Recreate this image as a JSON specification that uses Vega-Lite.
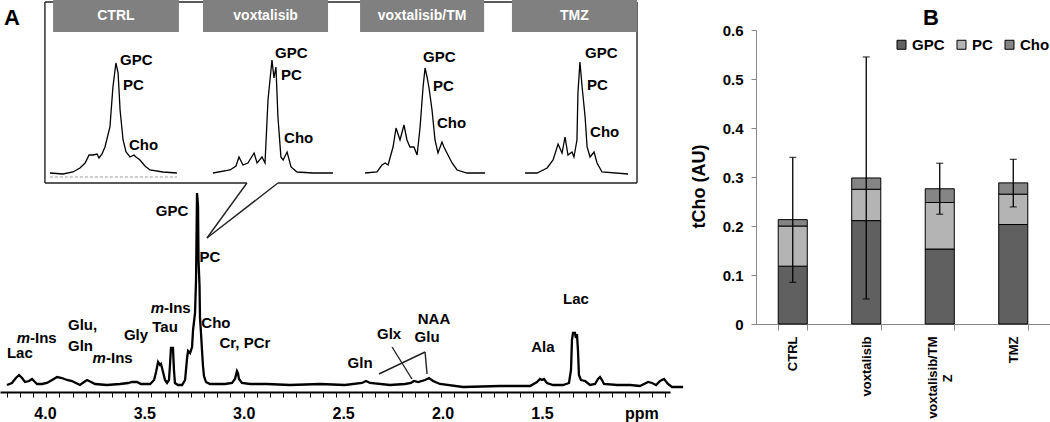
{
  "$schema": "https://vega.github.io/schema/vega-lite/v6.json",
  "width": 1050,
  "height": 422,
  "padding": 0,
  "autosize": {"type": "none"},
  "config": {
    "view": {"stroke": null},
    "font": "Liberation Sans, Arial, sans-serif",
    "text": {"fontWeight": "bold", "fontSize": 15, "color": "black", "baseline": "middle"},
    "style": {
      "tchoAxis": {}
    }
  },
  "datasets": {
    "main": [
      {"ppm":4.191,"I":7},{"ppm":4.166,"I":9},{"ppm":4.146,"I":14},{"ppm":4.130,"I":17},{"ppm":4.115,"I":14},{"ppm":4.100,"I":10},{"ppm":4.080,"I":11},{"ppm":4.065,"I":13},{"ppm":4.050,"I":10},{"ppm":4.040,"I":8},{"ppm":4.015,"I":8},{"ppm":3.990,"I":9},{"ppm":3.964,"I":12},{"ppm":3.939,"I":15},{"ppm":3.914,"I":14},{"ppm":3.889,"I":12},{"ppm":3.864,"I":11},{"ppm":3.844,"I":9},{"ppm":3.824,"I":7},{"ppm":3.803,"I":10},{"ppm":3.788,"I":12},{"ppm":3.768,"I":10},{"ppm":3.748,"I":8},{"ppm":3.688,"I":7},{"ppm":3.622,"I":8},{"ppm":3.582,"I":9},{"ppm":3.562,"I":10},{"ppm":3.537,"I":10},{"ppm":3.517,"I":8},{"ppm":3.471,"I":8},{"ppm":3.451,"I":12},{"ppm":3.441,"I":20},{"ppm":3.431,"I":30},{"ppm":3.421,"I":27},{"ppm":3.416,"I":28},{"ppm":3.406,"I":20},{"ppm":3.396,"I":12},{"ppm":3.386,"I":9},{"ppm":3.376,"I":12},{"ppm":3.371,"I":27},{"ppm":3.366,"I":44},{"ppm":3.356,"I":44},{"ppm":3.351,"I":22},{"ppm":3.346,"I":9},{"ppm":3.331,"I":7},{"ppm":3.310,"I":7},{"ppm":3.295,"I":12},{"ppm":3.285,"I":34},{"ppm":3.280,"I":41},{"ppm":3.270,"I":39},{"ppm":3.260,"I":45},{"ppm":3.255,"I":62},{"ppm":3.245,"I":79},{"ppm":3.240,"I":112},{"ppm":3.235,"I":199},{"ppm":3.230,"I":187},{"ppm":3.2275,"I":132},{"ppm":3.225,"I":119},{"ppm":3.2225,"I":107},{"ppm":3.220,"I":74},{"ppm":3.215,"I":59},{"ppm":3.210,"I":42},{"ppm":3.205,"I":26},{"ppm":3.200,"I":16},{"ppm":3.190,"I":10},{"ppm":3.170,"I":8},{"ppm":3.134,"I":8},{"ppm":3.094,"I":8},{"ppm":3.059,"I":9},{"ppm":3.044,"I":13},{"ppm":3.034,"I":21},{"ppm":3.029,"I":19},{"ppm":3.024,"I":13},{"ppm":3.009,"I":9},{"ppm":2.968,"I":8},{"ppm":2.883,"I":8},{"ppm":2.767,"I":7},{"ppm":2.616,"I":8},{"ppm":2.491,"I":7},{"ppm":2.405,"I":9},{"ppm":2.385,"I":11},{"ppm":2.365,"I":9},{"ppm":2.264,"I":7},{"ppm":2.189,"I":8},{"ppm":2.159,"I":9},{"ppm":2.144,"I":11},{"ppm":2.123,"I":10},{"ppm":2.088,"I":12},{"ppm":2.068,"I":14},{"ppm":2.048,"I":11},{"ppm":2.013,"I":8},{"ppm":1.897,"I":5},{"ppm":1.711,"I":6},{"ppm":1.560,"I":6},{"ppm":1.525,"I":10},{"ppm":1.510,"I":13},{"ppm":1.500,"I":12},{"ppm":1.490,"I":13},{"ppm":1.475,"I":9},{"ppm":1.444,"I":7},{"ppm":1.394,"I":7},{"ppm":1.364,"I":9},{"ppm":1.354,"I":22},{"ppm":1.349,"I":52},{"ppm":1.344,"I":59},{"ppm":1.334,"I":59},{"ppm":1.329,"I":54},{"ppm":1.324,"I":58},{"ppm":1.319,"I":42},{"ppm":1.314,"I":17},{"ppm":1.304,"I":12},{"ppm":1.283,"I":11},{"ppm":1.258,"I":7},{"ppm":1.233,"I":8},{"ppm":1.218,"I":13},{"ppm":1.208,"I":15},{"ppm":1.198,"I":12},{"ppm":1.188,"I":8},{"ppm":1.122,"I":7},{"ppm":1.057,"I":7},{"ppm":1.007,"I":6},{"ppm":0.966,"I":10},{"ppm":0.946,"I":9},{"ppm":0.926,"I":7},{"ppm":0.906,"I":11},{"ppm":0.886,"I":13},{"ppm":0.866,"I":8},{"ppm":0.846,"I":5},{"ppm":0.790,"I":5}
    ],
    "insets": [
      {"panel":"CTRL","ppm":3.975,"I":219},{"panel":"CTRL","ppm":3.909,"I":218},{"panel":"CTRL","ppm":3.859,"I":220},{"panel":"CTRL","ppm":3.824,"I":224},{"panel":"CTRL","ppm":3.798,"I":229},{"panel":"CTRL","ppm":3.778,"I":237},{"panel":"CTRL","ppm":3.758,"I":237},{"panel":"CTRL","ppm":3.738,"I":238},{"panel":"CTRL","ppm":3.728,"I":234},{"panel":"CTRL","ppm":3.713,"I":238},{"panel":"CTRL","ppm":3.698,"I":245},{"panel":"CTRL","ppm":3.673,"I":265},{"panel":"CTRL","ppm":3.658,"I":305},{"panel":"CTRL","ppm":3.643,"I":329},{"panel":"CTRL","ppm":3.632,"I":319},{"panel":"CTRL","ppm":3.622,"I":282},{"panel":"CTRL","ppm":3.607,"I":252},{"panel":"CTRL","ppm":3.592,"I":240},{"panel":"CTRL","ppm":3.572,"I":235},{"panel":"CTRL","ppm":3.552,"I":237},{"panel":"CTRL","ppm":3.542,"I":235},{"panel":"CTRL","ppm":3.522,"I":232},{"panel":"CTRL","ppm":3.497,"I":226},{"panel":"CTRL","ppm":3.472,"I":222},{"panel":"CTRL","ppm":3.406,"I":220},{"panel":"CTRL","ppm":3.336,"I":219},
      {"panel":"voxtalisib","ppm":3.155,"I":219},{"panel":"voxtalisib","ppm":3.069,"I":222},{"panel":"voxtalisib","ppm":3.039,"I":226},{"panel":"voxtalisib","ppm":3.024,"I":235},{"panel":"voxtalisib","ppm":3.004,"I":227},{"panel":"voxtalisib","ppm":2.979,"I":229},{"panel":"voxtalisib","ppm":2.948,"I":239},{"panel":"voxtalisib","ppm":2.933,"I":229},{"panel":"voxtalisib","ppm":2.908,"I":235},{"panel":"voxtalisib","ppm":2.893,"I":229},{"panel":"voxtalisib","ppm":2.878,"I":292},{"panel":"voxtalisib","ppm":2.858,"I":332},{"panel":"voxtalisib","ppm":2.848,"I":314},{"panel":"voxtalisib","ppm":2.838,"I":325},{"panel":"voxtalisib","ppm":2.828,"I":275},{"panel":"voxtalisib","ppm":2.813,"I":235},{"panel":"voxtalisib","ppm":2.802,"I":232},{"panel":"voxtalisib","ppm":2.782,"I":240},{"panel":"voxtalisib","ppm":2.762,"I":225},{"panel":"voxtalisib","ppm":2.732,"I":220},{"panel":"voxtalisib","ppm":2.652,"I":219},{"panel":"voxtalisib","ppm":2.551,"I":219},
      {"panel":"voxtalisib/TMZ","ppm":2.390,"I":219},{"panel":"voxtalisib/TMZ","ppm":2.330,"I":220},{"panel":"voxtalisib/TMZ","ppm":2.305,"I":227},{"panel":"voxtalisib/TMZ","ppm":2.289,"I":229},{"panel":"voxtalisib/TMZ","ppm":2.274,"I":227},{"panel":"voxtalisib/TMZ","ppm":2.249,"I":245},{"panel":"voxtalisib/TMZ","ppm":2.234,"I":264},{"panel":"voxtalisib/TMZ","ppm":2.214,"I":252},{"panel":"voxtalisib/TMZ","ppm":2.194,"I":267},{"panel":"voxtalisib/TMZ","ppm":2.179,"I":252},{"panel":"voxtalisib/TMZ","ppm":2.164,"I":245},{"panel":"voxtalisib/TMZ","ppm":2.144,"I":245},{"panel":"voxtalisib/TMZ","ppm":2.128,"I":237},{"panel":"voxtalisib/TMZ","ppm":2.113,"I":265},{"panel":"voxtalisib/TMZ","ppm":2.098,"I":305},{"panel":"voxtalisib/TMZ","ppm":2.088,"I":324},{"panel":"voxtalisib/TMZ","ppm":2.078,"I":315},{"panel":"voxtalisib/TMZ","ppm":2.068,"I":304},{"panel":"voxtalisib/TMZ","ppm":2.053,"I":282},{"panel":"voxtalisib/TMZ","ppm":2.038,"I":252},{"panel":"voxtalisib/TMZ","ppm":2.023,"I":239},{"panel":"voxtalisib/TMZ","ppm":2.003,"I":250},{"panel":"voxtalisib/TMZ","ppm":1.993,"I":245},{"panel":"voxtalisib/TMZ","ppm":1.978,"I":239},{"panel":"voxtalisib/TMZ","ppm":1.952,"I":229},{"panel":"voxtalisib/TMZ","ppm":1.927,"I":222},{"panel":"voxtalisib/TMZ","ppm":1.877,"I":219},{"panel":"voxtalisib/TMZ","ppm":1.786,"I":219},
      {"panel":"TMZ","ppm":1.585,"I":219},{"panel":"TMZ","ppm":1.525,"I":219},{"panel":"TMZ","ppm":1.474,"I":224},{"panel":"TMZ","ppm":1.444,"I":232},{"panel":"TMZ","ppm":1.419,"I":248},{"panel":"TMZ","ppm":1.399,"I":239},{"panel":"TMZ","ppm":1.384,"I":255},{"panel":"TMZ","ppm":1.369,"I":237},{"panel":"TMZ","ppm":1.349,"I":240},{"panel":"TMZ","ppm":1.339,"I":235},{"panel":"TMZ","ppm":1.324,"I":252},{"panel":"TMZ","ppm":1.319,"I":299},{"panel":"TMZ","ppm":1.309,"I":330},{"panel":"TMZ","ppm":1.298,"I":305},{"panel":"TMZ","ppm":1.293,"I":295},{"panel":"TMZ","ppm":1.283,"I":275},{"panel":"TMZ","ppm":1.273,"I":245},{"panel":"TMZ","ppm":1.258,"I":235},{"panel":"TMZ","ppm":1.238,"I":240},{"panel":"TMZ","ppm":1.223,"I":229},{"panel":"TMZ","ppm":1.198,"I":220},{"panel":"TMZ","ppm":1.067,"I":218}
    ],
    "segments": [
      {"ppm":4.000,"I":390,"ppm2":1.022,"I2":390},
      {"ppm":4.000,"I":390,"ppm2":4.000,"I2":209},
      {"ppm":1.022,"I":390,"ppm2":1.022,"I2":209},
      {"ppm":4.000,"I":209,"ppm2":2.984,"I2":209},
      {"ppm":2.828,"I":209,"ppm2":1.022,"I2":209},
      {"ppm":2.984,"I":209,"ppm2":3.185,"I2":154},
      {"ppm":2.828,"I":209,"ppm2":3.185,"I2":154},
      {"ppm":2.320,"I":18,"ppm2":2.088,"I2":40},
      {"ppm":2.088,"I":40,"ppm2":2.078,"I2":18},
      {"ppm":2.254,"I":45,"ppm2":2.154,"I2":13}
    ],
    "dashed": [{"ppm":3.975,"I":215,"ppm2":3.336,"I2":215}],
    "headers": [
      {"label":"CTRL","ppm":3.959,"ppm2":3.326,"I":392,"I2":360},
      {"label":"voxtalisib","ppm":3.205,"ppm2":2.576,"I":392,"I2":360},
      {"label":"voxtalisib/TM","ppm":2.415,"ppm2":1.791,"I":392,"I2":360},
      {"label":"TMZ","ppm":1.651,"ppm2":1.022,"I":392,"I2":360}
    ],
    "headerText": [
      {"label":"CTRL","ppm":3.643,"I":376},
      {"label":"voxtalisib","ppm":2.890,"I":376},
      {"label":"voxtalisib/TM","ppm":2.103,"I":376},
      {"label":"TMZ","ppm":1.337,"I":376}
    ],
    "labelsCenter": [
      {"label":"GPC","ppm":3.361,"I":181},
      {"label":"PC","ppm":3.170,"I":135},
      {"label":"Lac","ppm":4.126,"I":39},
      {"label":"Gly","ppm":3.542,"I":57},
      {"label":"Tau","ppm":3.396,"I":65},
      {"label":"Cho","ppm":3.140,"I":69},
      {"label":"Cr, PCr","ppm":2.994,"I":49},
      {"label":"Gln","ppm":2.415,"I":29},
      {"label":"Glx","ppm":2.269,"I":58},
      {"label":"NAA","ppm":2.043,"I":73},
      {"label":"Glu","ppm":2.078,"I":55},
      {"label":"Ala","ppm":1.495,"I":45},
      {"label":"Lac","ppm":1.329,"I":93}
    ],
    "labelsLeft": [
      {"label":"Glu,","ppm":3.884,"I":67},
      {"label":"Gln","ppm":3.884,"I":46},
      {"label":"GPC","ppm":3.622,"I":332},
      {"label":"PC","ppm":3.607,"I":307},
      {"label":"Cho","ppm":3.577,"I":247},
      {"label":"GPC","ppm":2.843,"I":339},
      {"label":"PC","ppm":2.813,"I":317},
      {"label":"Cho","ppm":2.797,"I":254},
      {"label":"GPC","ppm":2.098,"I":335},
      {"label":"PC","ppm":2.048,"I":306},
      {"label":"Cho","ppm":2.028,"I":269},
      {"label":"GPC","ppm":1.283,"I":339},
      {"label":"PC","ppm":1.273,"I":307},
      {"label":"Cho","ppm":1.258,"I":260}
    ],
    "mIns": [
      {"ppm":4.075,"I":54},
      {"ppm":3.693,"I":34},
      {"ppm":3.401,"I":84}
    ],
    "panelLetters": [
      {"label":"A","ppm":4.166,"I":374},
      {"label":"B","ppm":-0.457,"I":374}
    ],
    "bars": [
      {"group":"CTRL","component":"GPC","value":0.118},
      {"group":"CTRL","component":"PC","value":0.082},
      {"group":"CTRL","component":"Cho","value":0.013},
      {"group":"voxtalisib","component":"GPC","value":0.211},
      {"group":"voxtalisib","component":"PC","value":0.064},
      {"group":"voxtalisib","component":"Cho","value":0.023},
      {"group":"voxtalisib/TMZ","component":"GPC","value":0.153},
      {"group":"voxtalisib/TMZ","component":"PC","value":0.095},
      {"group":"voxtalisib/TMZ","component":"Cho","value":0.028},
      {"group":"TMZ","component":"GPC","value":0.203},
      {"group":"TMZ","component":"PC","value":0.062},
      {"group":"TMZ","component":"Cho","value":0.023}
    ],
    "err": [
      {"group":"CTRL","lo":0.085,"hi":0.340},
      {"group":"voxtalisib","lo":0.051,"hi":0.545},
      {"group":"voxtalisib/TMZ","lo":0.224,"hi":0.328},
      {"group":"TMZ","lo":0.239,"hi":0.336}
    ],
    "wrapPart": [
      {"group":"voxtalisib/TMZ","pos":-0.111,"text":"Z"}
    ]
  },
  "layer": [
    {
      "encoding": {
        "x": {
          "field": "ppm", "type": "quantitative",
          "scale": {"domain": [4.226, 0.856], "range": [0, 670], "nice": false, "zero": false},
          "axis": {
            "orient": "bottom", "offset": -30, "title": null, "grid": false,
            "values": [4.192,4.126,4.060,3.993,3.927,3.861,3.795,3.729,3.662,3.596,3.530,3.464,3.398,3.331,3.265,3.199,3.133,3.067,3.000,2.934,2.868,2.802,2.736,2.669,2.603,2.537,2.471,2.405,2.338,2.272,2.206,2.140,2.074,2.007,1.941,1.875,1.809,1.743,1.676,1.610,1.544,1.478,1.412,1.345,1.279,1.213,1.147,1.081,1.014,0.948,0.882,4,3.5,2.5,2,1.5,1],
            "labelExpr": "datum.value == 1 ? 'ppm' : (indexof([4,3.5,3,2.5,2,1.5], datum.value) >= 0 ? format(datum.value, '.1f') : '')",
            "tickOpacity": {"condition": {"test": "indexof([4,3.5,2.5,2,1.5,1], datum.value) >= 0", "value": 0}, "value": 1},
            "tickSize": 5, "tickWidth": 1, "tickColor": "black",
            "domainColor": "black", "domainWidth": 2,
            "labelFontSize": 16, "labelFontWeight": "bold", "labelColor": "black",
            "labelPadding": 8, "labelOverlap": false, "labelBound": false, "labelFlush": false
          }
        },
        "y": {
          "field": "I", "type": "quantitative",
          "scale": {"domain": [0, 392], "range": [392, 0], "nice": false, "zero": false},
          "axis": null
        }
      },
      "layer": [
        {"data": {"name": "main"}, "mark": {"type": "line", "color": "black", "strokeWidth": 2.3}},
        {"data": {"name": "insets"}, "mark": {"type": "line", "color": "black", "strokeWidth": 1.3}, "encoding": {"detail": {"field": "panel"}}},
        {"data": {"name": "dashed"}, "mark": {"type": "rule", "color": "#999999", "strokeWidth": 1, "strokeDash": [3, 2]}, "encoding": {"x2": {"field": "ppm2"}, "y2": {"field": "I2"}}},
        {"data": {"name": "segments"}, "mark": {"type": "rule", "color": "#222222", "strokeWidth": 1.4}, "encoding": {"x2": {"field": "ppm2"}, "y2": {"field": "I2"}}},
        {"data": {"name": "headers"}, "mark": {"type": "rect", "color": "#808080"}, "encoding": {"x2": {"field": "ppm2"}, "y2": {"field": "I2"}}},
        {"data": {"name": "headerText"}, "mark": {"type": "text", "color": "white", "fontSize": 14, "align": "center"}, "encoding": {"text": {"field": "label"}}},
        {"data": {"name": "labelsCenter"}, "mark": {"type": "text", "align": "center"}, "encoding": {"text": {"field": "label"}}},
        {"data": {"name": "labelsLeft"}, "mark": {"type": "text", "align": "left"}, "encoding": {"text": {"field": "label"}}},
        {"data": {"name": "mIns"}, "mark": {"type": "text", "align": "right", "fontStyle": "italic"}, "encoding": {"text": {"value": "m"}}},
        {"data": {"name": "mIns"}, "mark": {"type": "text", "align": "left"}, "encoding": {"text": {"value": "-Ins"}}},
        {"data": {"name": "panelLetters"}, "mark": {"type": "text", "align": "center", "fontSize": 22}, "encoding": {"text": {"field": "label"}}}
      ]
    },
    {
      "encoding": {
        "x": {
          "field": "group", "type": "nominal",
          "scale": {"domain": ["CTRL", "voxtalisib", "voxtalisib/TMZ", "TMZ"], "range": [756, 1050], "paddingInner": 0.605, "paddingOuter": 0.3025},
          "axis": {
            "orient": "bottom", "offset": -98, "title": null, "grid": false,
            "labelAngle": -90, "labelFontSize": 13, "labelFontWeight": "bold", "labelColor": "black",
            "labelPadding": 6, "tickBand": "extent", "tickSize": 6, "tickColor": "#888888", "domainColor": "#888888",
            "labelOffset": {"condition": {"test": "datum.value == 'voxtalisib/TMZ'", "value": -7}, "value": 0},
            "labelExpr": "datum.value == 'voxtalisib/TMZ' ? 'voxtalisib/TM' : datum.value"
          }
        }
      },
      "layer": [
        {
          "data": {"name": "bars"},
          "transform": [{"calculate": "indexof(['GPC','PC','Cho'], datum.component)", "as": "stackOrder"}],
          "mark": {"type": "bar", "stroke": "black", "strokeWidth": 1},
          "encoding": {
            "y": {
              "field": "value", "type": "quantitative", "stack": "zero",
              "scale": {"domain": [0, 0.6], "range": [324, 30], "nice": false},
              "axis": {
                "orient": "left", "offset": -756, "grid": false,
                "values": [0, 0.1, 0.2, 0.3, 0.4, 0.5, 0.6],
                "labelExpr": "datum.value == 0 ? '0' : format(datum.value, '.1f')",
                "labelFontSize": 15, "labelFontWeight": "bold", "labelColor": "black", "labelPadding": 8,
                "tickSize": 5, "tickColor": "#888888", "domainColor": "#888888",
                "title": "tCho (AU)", "titleFontSize": 18, "titleFontWeight": "bold", "titleColor": "black", "titlePadding": 14, "titleY": 186
              }
            },
            "color": {
              "field": "component", "type": "nominal",
              "sort": ["GPC", "PC", "Cho"],
              "scale": {"domain": ["GPC", "PC", "Cho"], "range": ["#606060", "#b4b4b4", "#858585"]},
              "legend": {
                "orient": "none", "legendX": 894, "legendY": 37, "direction": "horizontal", "title": null,
                "symbolType": "square", "symbolSize": 81, "symbolStrokeColor": "black", "symbolStrokeWidth": 1,
                "labelFontSize": 15, "labelFontWeight": "bold", "labelColor": "black", "labelOffset": 3,
                "columnPadding": 9, "padding": 0
              }
            },
            "order": {"field": "stackOrder", "type": "quantitative"}
          }
        },
        {
          "data": {"name": "err"},
          "mark": {"type": "rule", "color": "black", "strokeWidth": 1.3},
          "encoding": {
            "y": {
              "field": "lo", "type": "quantitative",
              "scale": {"domain": [0, 0.6], "range": [324, 30], "nice": false},
              "axis": {
                "orient": "left", "offset": -756, "grid": false,
                "values": [0, 0.1, 0.2, 0.3, 0.4, 0.5, 0.6],
                "labelExpr": "datum.value == 0 ? '0' : format(datum.value, '.1f')",
                "labelFontSize": 15, "labelFontWeight": "bold", "labelColor": "black", "labelPadding": 8,
                "tickSize": 5, "tickColor": "#888888", "domainColor": "#888888",
                "title": "tCho (AU)", "titleFontSize": 18, "titleFontWeight": "bold", "titleColor": "black", "titlePadding": 14, "titleY": 186
              }
            },
            "y2": {"field": "hi"}
          }
        },
        {
          "data": {"name": "err"},
          "mark": {"type": "tick", "color": "black", "size": 7, "thickness": 1.3},
          "encoding": {
            "y": {
              "field": "lo", "type": "quantitative",
              "scale": {"domain": [0, 0.6], "range": [324, 30], "nice": false},
              "axis": {
                "orient": "left", "offset": -756, "grid": false,
                "values": [0, 0.1, 0.2, 0.3, 0.4, 0.5, 0.6],
                "labelExpr": "datum.value == 0 ? '0' : format(datum.value, '.1f')",
                "labelFontSize": 15, "labelFontWeight": "bold", "labelColor": "black", "labelPadding": 8,
                "tickSize": 5, "tickColor": "#888888", "domainColor": "#888888",
                "title": "tCho (AU)", "titleFontSize": 18, "titleFontWeight": "bold", "titleColor": "black", "titlePadding": 14, "titleY": 186
              }
            }
          }
        },
        {
          "data": {"name": "err"},
          "mark": {"type": "tick", "color": "black", "size": 7, "thickness": 1.3},
          "encoding": {
            "y": {
              "field": "hi", "type": "quantitative",
              "scale": {"domain": [0, 0.6], "range": [324, 30], "nice": false},
              "axis": {
                "orient": "left", "offset": -756, "grid": false,
                "values": [0, 0.1, 0.2, 0.3, 0.4, 0.5, 0.6],
                "labelExpr": "datum.value == 0 ? '0' : format(datum.value, '.1f')",
                "labelFontSize": 15, "labelFontWeight": "bold", "labelColor": "black", "labelPadding": 8,
                "tickSize": 5, "tickColor": "#888888", "domainColor": "#888888",
                "title": "tCho (AU)", "titleFontSize": 18, "titleFontWeight": "bold", "titleColor": "black", "titlePadding": 14, "titleY": 186
              }
            }
          }
        },
        {
          "data": {"name": "wrapPart"},
          "mark": {"type": "text", "angle": 270, "align": "center", "baseline": "middle", "fontSize": 13, "dy": 8},
          "encoding": {
            "y": {
              "field": "pos", "type": "quantitative",
              "scale": {"domain": [0, 0.6], "range": [324, 30], "nice": false},
              "axis": {
                "orient": "left", "offset": -756, "grid": false,
                "values": [0, 0.1, 0.2, 0.3, 0.4, 0.5, 0.6],
                "labelExpr": "datum.value == 0 ? '0' : format(datum.value, '.1f')",
                "labelFontSize": 15, "labelFontWeight": "bold", "labelColor": "black", "labelPadding": 8,
                "tickSize": 5, "tickColor": "#888888", "domainColor": "#888888",
                "title": "tCho (AU)", "titleFontSize": 18, "titleFontWeight": "bold", "titleColor": "black", "titlePadding": 14, "titleY": 186
              }
            },
            "text": {"field": "text"}
          }
        }
      ]
    }
  ],
  "resolve": {"scale": {"x": "independent", "y": "independent"}}
}
